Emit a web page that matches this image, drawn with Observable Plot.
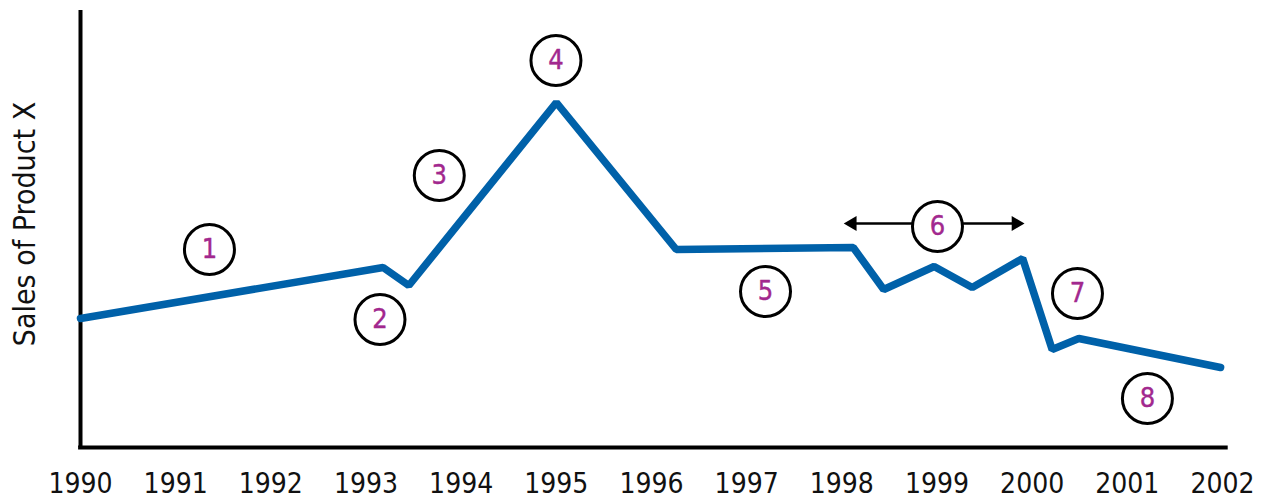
<!DOCTYPE html>
<html>
<head>
<meta charset="utf-8">
<script src="https://cdn.jsdelivr.net/npm/d3@7"></script>
<script src="https://cdn.jsdelivr.net/npm/@observablehq/plot@0.6"></script>
<style>
  html, body { margin: 0; padding: 0; background: #fff; }
  #chart svg { display: block; }
</style>
</head>
<body>
<div id="chart"></div>
<script>
// Sales line (arbitrary units, no y ticks in the original)
const years = [1990, 1993.18, 1993.45, 1995.0, 1996.26, 1998.12, 1998.44, 1998.97, 1999.37, 1999.9, 2000.21, 2000.49, 2001.98];
const sales = [129, 180, 162, 345, 198, 200, 158, 181, 160, 189, 98, 109, 80];

// Numbered callouts
const calloutNums = ["1", "2", "3", "4", "5", "6", "7", "8"];
const calloutYears = [1991.355, 1993.147, 1993.77, 1994.996, 1997.198, 1999.005, 2000.476, 2001.211];
const calloutValues = [198, 128, 272, 387, 156, 221, 154, 49];

// Double arrow spanning callout 6
const arrowStart = 1998.06;
const arrowEnd = 1999.88;
const arrowValue = 224;
const arrowHeadYears = [1998.11, 1999.83];
const arrowHeadAngles = [-90, 90];

// Axis tick labels
const tickYears = [1990, 1991, 1992, 1993, 1994, 1995, 1996, 1997, 1998, 1999, 2000, 2001, 2002];
const yLabel = "Sales of Product X";

const lineData = years.map((x, i) => ({x, y: sales[i]}));
const callouts = calloutNums.map((n, i) => ({n, x: calloutYears[i], y: calloutValues[i]}));
const heads = arrowHeadYears.map((x, i) => ({x, y: arrowValue, a: arrowHeadAngles[i]}));

const plot = Plot.plot({
  width: 1265,
  height: 503,
  marginLeft: 80,
  marginRight: 43,
  marginTop: 10,
  marginBottom: 56,
  style: {fontFamily: "'Liberation Sans Narrow', 'DejaVu Sans Condensed', sans-serif", background: "#fff"},
  x: {domain: [1990, 2002]},
  y: {domain: [0, 437]},
  marks: [
    Plot.axisX({ticks: tickYears, tickFormat: d => String(d), tickSize: 0, tickPadding: 26, fontSize: 28, fill: "#111", label: null}),
    Plot.axisY({ticks: [], label: null}),
    Plot.ruleX([1990], {y1: 0, y2: 437, stroke: "#000", strokeWidth: 4}),
    Plot.ruleY([0], {x1: 1989.98, x2: 2002.06, stroke: "#000", strokeWidth: 4}),
    Plot.text([yLabel], {frameAnchor: "left", textAnchor: "middle", rotate: -90, dx: -55, dy: -5, fontSize: 30, fill: "#111"}),
    Plot.line(lineData, {x: "x", y: "y", stroke: "#0061a9", strokeWidth: 7.5, strokeLinejoin: "miter", strokeLinecap: "round"}),
    Plot.ruleY([arrowValue], {x1: arrowStart, x2: arrowEnd, stroke: "#000", strokeWidth: 2.5}),
    Plot.dot(heads, {x: "x", y: "y", rotate: "a", symbol: "triangle", r: 5.5, fill: "#000", stroke: null}),
    Plot.dot(callouts, {x: "x", y: "y", r: 25, fill: "#fff", stroke: "#000", strokeWidth: 3}),
    Plot.text(callouts, {x: "x", y: "y", text: "n", fontSize: 27, fill: "#a2288e", stroke: "#a2288e", strokeWidth: 0.4})
  ]
});
document.getElementById("chart").appendChild(plot);
</script>
</body>
</html>
